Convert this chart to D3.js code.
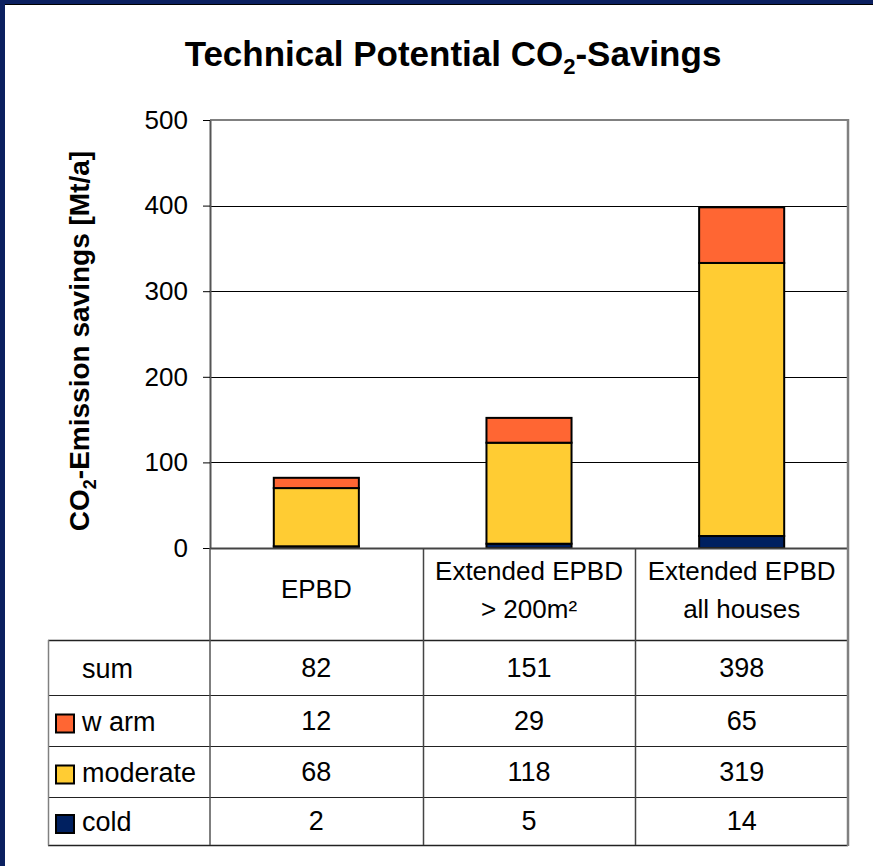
<!DOCTYPE html>
<html lang="en">
<head>
<meta charset="utf-8">
<script src="https://d3js.org/d3.v7.min.js"></script>
<style type="text/css">
body {
	margin: 0;
	background-color: #ffffff;
}
svg text {
	font-family: "Liberation Sans", Arial, sans-serif;
	fill: #000;
}
.axis text {
	font-size: 26px;
}
.axis path {
	stroke: #555;
	stroke-width: 2px;
}
.axis line {
	stroke: #000;
}
</style>
</head>
<body>
<script type="text/javascript">

// chart data
var categories = ["EPBD", "Extended EPBD > 200m²", "Extended EPBD all houses"];
var categoryLines = [["EPBD"], ["Extended EPBD", "> 200m²"], ["Extended EPBD", "all houses"]];
var cold = [2, 5, 14];
var moderate = [68, 118, 319];
var warm = [12, 29, 65];
var sums = [82, 151, 398];
var yTicks = [0, 100, 200, 300, 400, 500];
var rowLabels = ["sum", "w arm", "moderate", "cold"];

var width = 873, height = 866;

var colWarm = "#FF6633", colModerate = "#FFCC33", colCold = "#002060";
var navy = "#0b2060";

var svg = d3.select("body")
	.append("svg")
	.attr("width", width)
	.attr("height", height);

svg.append("rect").attr("width", width).attr("height", height).style("fill", "#fff");

// frame of the slide
svg.append("rect").attr("x", 0).attr("y", 0).attr("width", width).attr("height", 4).style("fill", navy);
svg.append("rect").attr("x", 0).attr("y", 0).attr("width", 5).attr("height", height).style("fill", navy);
svg.append("line").attr("x1", 5).attr("x2", width).attr("y1", 4.5).attr("y2", 4.5).style("stroke", "#000").style("stroke-width", 1);

// title
var title = svg.append("text")
	.attr("x", 453)
	.attr("y", 66)
	.attr("text-anchor", "middle")
	.style("font-size", "35px")
	.style("font-weight", "bold");
title.append("tspan").text("Technical Potential CO");
title.append("tspan").attr("dy", 8).style("font-size", "22px").text("2");
title.append("tspan").attr("dy", -8).text("-Savings");

// scales
var plotLeft = 210, plotRight = 848, plotTop = 120, plotBottom = 548;

var x = d3.scaleBand()
	.domain(categories)
	.range([plotLeft, plotRight])
	.paddingInner(0)
	.paddingOuter(0);

var y = d3.scaleLinear()
	.domain([0, 500])
	.range([plotBottom, plotTop]);

// gridlines
svg.append("g")
	.selectAll("line")
	.data(yTicks.filter(function(d) { return d > 0 && d < 500; }))
	.enter()
	.append("line")
	.attr("x1", plotLeft)
	.attr("x2", plotRight)
	.attr("y1", function(d) { return Math.round(y(d)) + 0.5; })
	.attr("y2", function(d) { return Math.round(y(d)) + 0.5; })
	.style("stroke", "#000")
	.style("stroke-width", 1);

// plot border top (grey)
svg.append("line").attr("x1", plotLeft).attr("x2", plotRight).attr("y1", y(500)).attr("y2", y(500))
	.style("stroke", "#808080").style("stroke-width", 2);

// stacked bars
var stackData = categories.map(function(c, i) {
	return {cat: c, cold: cold[i], moderate: moderate[i], warm: warm[i]};
});
var stack = d3.stack().keys(["cold", "moderate", "warm"]);
var series = stack(stackData);
var colors = {cold: colCold, moderate: colModerate, warm: colWarm};
var barW = x.bandwidth() * 0.4;

svg.append("g")
	.selectAll("g")
	.data(series)
	.enter()
	.append("g")
	.style("fill", function(d) { return colors[d.key]; })
	.selectAll("rect")
	.data(function(d) { return d; })
	.enter()
	.append("rect")
	.attr("x", function(d) { return x(d.data.cat) + (x.bandwidth() - barW) / 2; })
	.attr("width", barW)
	.attr("y", function(d) { return y(d[1]); })
	.attr("height", function(d) { return y(d[0]) - y(d[1]); })
	.style("stroke", "#000")
	.style("stroke-width", 2);

// y axis
var yAxis = d3.axisLeft(y)
	.tickValues(yTicks)
	.tickSize(7)
	.tickSizeOuter(0)
	.tickPadding(15);

svg.append("g")
	.attr("class", "axis")
	.attr("transform", "translate(" + plotLeft + ",0)")
	.call(yAxis);

// y axis label
var ylab = svg.append("text")
	.attr("transform", "translate(89,341) rotate(-90)")
	.attr("text-anchor", "middle")
	.style("font-size", "28px")
	.style("font-weight", "bold");
ylab.append("tspan").text("CO");
ylab.append("tspan").attr("dy", 7).style("font-size", "18px").text("2");
ylab.append("tspan").attr("dy", -7).text("-Emission savings [Mt/a]");

// data table
var tableLeft = 48, headerBottom = 640, tableBottom = 845;
var rowEdges = [640, 695, 746, 797, 845];
var rowValues = [sums, warm, moderate, cold];
var rowSwatch = [null, colWarm, colModerate, colCold];

var table = svg.append("g");

// horizontal lines
table.selectAll("line.h")
	.data(rowEdges)
	.enter()
	.append("line")
	.attr("class", "h")
	.attr("x1", tableLeft)
	.attr("x2", plotRight)
	.attr("y1", function(d) { return d + 0.5; })
	.attr("y2", function(d) { return d + 0.5; })
	.style("stroke", "#222")
	.style("stroke-width", function(d, i) { return i == 0 || i == 4 ? 1.5 : 1; });

// baseline of the plot
table.append("line").attr("x1", plotLeft).attr("x2", plotRight).attr("y1", plotBottom + 0.5).attr("y2", plotBottom + 0.5)
	.style("stroke", "#444").style("stroke-width", 2);

// vertical lines between categories
table.selectAll("line.v")
	.data(categories.slice(1))
	.enter()
	.append("line")
	.attr("class", "v")
	.attr("x1", function(d) { return Math.round(x(d)) + 0.5; })
	.attr("x2", function(d) { return Math.round(x(d)) + 0.5; })
	.attr("y1", plotBottom)
	.attr("y2", tableBottom)
	.style("stroke", "#444")
	.style("stroke-width", 1.5);

// left edges
table.append("line").attr("x1", plotLeft).attr("x2", plotLeft).attr("y1", plotBottom).attr("y2", tableBottom)
	.style("stroke", "#555").style("stroke-width", 1.5);
table.append("line").attr("x1", tableLeft + 0.5).attr("x2", tableLeft + 0.5).attr("y1", headerBottom).attr("y2", tableBottom + 0.5)
	.style("stroke", "#808080").style("stroke-width", 1.5);

// right edge (grey)
svg.append("line").attr("x1", plotRight).attr("x2", plotRight).attr("y1", plotTop - 1).attr("y2", tableBottom + 1)
	.style("stroke", "#808080").style("stroke-width", 2.5);

// header labels
categoryLines.forEach(function(lines, i) {
	var cx = x(categories[i]) + x.bandwidth() / 2;
	var t = table.append("text")
		.attr("text-anchor", "middle")
		.style("font-size", "26px");
	if (lines.length == 1) {
		t.append("tspan").attr("x", cx).attr("y", 598).text(lines[0]);
	} else {
		t.append("tspan").attr("x", cx).attr("y", 580).text(lines[0]);
		t.append("tspan").attr("x", cx).attr("y", 618).text(lines[1]);
	}
});

// row labels, swatches and values
rowLabels.forEach(function(label, r) {
	var mid = (rowEdges[r] + rowEdges[r + 1]) / 2;
	if (rowSwatch[r]) {
		table.append("rect")
			.attr("x", 56)
			.attr("y", mid - 6)
			.attr("width", 18)
			.attr("height", 18)
			.style("fill", rowSwatch[r])
			.style("stroke", "#000")
			.style("stroke-width", 2);
	}
	table.append("text")
		.attr("x", 82)
		.attr("y", mid + 10)
		.style("font-size", "27px")
		.text(label);
	rowValues[r].forEach(function(v, i) {
		table.append("text")
			.attr("x", x(categories[i]) + x.bandwidth() / 2)
			.attr("y", mid + 9)
			.attr("text-anchor", "middle")
			.style("font-size", "27px")
			.text(v);
	});
});

</script>
</body>
</html>
